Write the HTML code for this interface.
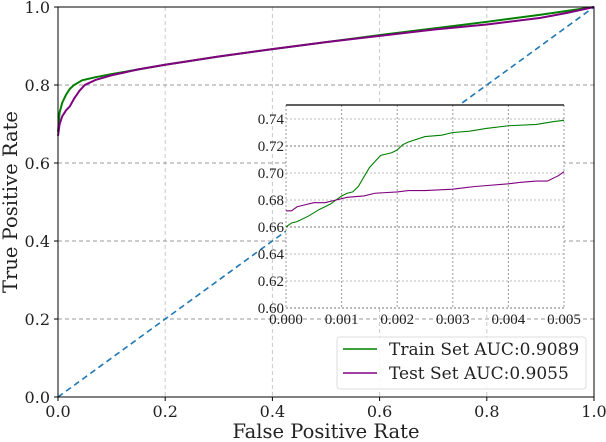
<!DOCTYPE html>
<html><head><meta charset="utf-8"><style>
html,body{margin:0;padding:0;background:#fff;}
svg{display:block;font-family:"DejaVu Serif","Liberation Serif",serif;}
</style></head><body>
<svg id="chart" width="606" height="442" viewBox="0 0 606 442"></svg>
<script>
const mainTicks=[0,0.2,0.4,0.6,0.8,1.0];
const mainTickLabels=["0.0","0.2","0.4","0.6","0.8","1.0"];
const trainFpr=[0,0.003,0.008,0.015,0.022,0.03,0.045,0.07,0.1,0.15,0.2,0.3,0.4,0.5,0.6,0.7,0.8,0.9,0.95,1.0];
const trainTpr=[0.68,0.73,0.755,0.775,0.79,0.80,0.812,0.82,0.828,0.84,0.852,0.873,0.892,0.91,0.928,0.945,0.962,0.98,0.99,1.0];
const testFpr=[0,0.003,0.008,0.015,0.022,0.03,0.04,0.05,0.07,0.1,0.15,0.2,0.3,0.4,0.5,0.6,0.7,0.8,0.9,0.95,1.0];
const testTpr=[0.67,0.70,0.72,0.735,0.745,0.765,0.785,0.80,0.813,0.825,0.84,0.852,0.873,0.892,0.91,0.926,0.942,0.955,0.972,0.985,1.0];
const insetXTicks=[0,0.001,0.002,0.003,0.004,0.005];
const insetXLabels=["0.000","0.001","0.002","0.003","0.004","0.005"];
const insetYTicks=[0.60,0.62,0.64,0.66,0.68,0.70,0.72,0.74];
const insetYLabels=["0.60","0.62","0.64","0.66","0.68","0.70","0.72","0.74"];
const insTrainX=[0,0.0001,0.0002,0.0004,0.0006,0.0008,0.001,0.0011,0.0012,0.0013,0.0014,0.0015,0.0017,0.0019,0.002,0.0021,0.0022,0.0025,0.0028,0.003,0.0033,0.0036,0.004,0.0045,0.0048,0.005];
const insTrainY=[0.660,0.663,0.664,0.668,0.673,0.677,0.683,0.685,0.686,0.690,0.697,0.704,0.713,0.715,0.717,0.721,0.723,0.727,0.728,0.730,0.731,0.733,0.735,0.736,0.738,0.739];
const insTestX=[0,0.0001,0.0002,0.0003,0.0005,0.0007,0.0009,0.0011,0.0014,0.0016,0.002,0.0022,0.0025,0.003,0.0032,0.0034,0.004,0.0042,0.0045,0.0047,0.0049,0.005];
const insTestY=[0.672,0.672,0.675,0.676,0.678,0.678,0.680,0.682,0.683,0.685,0.686,0.687,0.687,0.688,0.689,0.690,0.692,0.693,0.694,0.694,0.698,0.701];

const NS="http://www.w3.org/2000/svg";
const svg=document.getElementById('chart');
function mk(tag,attrs,parent){const e=document.createElementNS(NS,tag);for(const k in attrs)e.setAttribute(k,attrs[k]);(parent||svg).appendChild(e);return e;}
const X0=58,X1=594,Y0=397,Y1=7;
const sx=v=>X0+v*(X1-X0), sy=v=>Y0-v*(Y0-Y1);
const IX0=286,IX1=564,IYtop=105,IY060=308,IY074=119;
const isx=v=>IX0+v/0.005*(IX1-IX0);
const isy=v=>IY060-(v-0.60)/0.14*(IY060-IY074);

mainTicks.forEach((t,i)=>{
  if(i>0&&i<5){
    const g=mk('line',{x1:sx(t),x2:sx(t),y1:Y1,y2:Y0,stroke:'#c8c8c8','stroke-dasharray':'4,3','stroke-width':1});
    
    
    const h=mk('line',{x1:X0,x2:X1,y1:sy(t),y2:sy(t),stroke:'#999','stroke-dasharray':'4,3','stroke-width':1});
    
    
  }
  const tx=mk('text',{x:sx(t),y:Y0+20,'text-anchor':'middle','font-size':16,fill:'#222'});
  tx.textContent=mainTickLabels[i];
  
  
  mk('line',{x1:sx(t),x2:sx(t),y1:Y0,y2:Y0+4,stroke:'#000'});
  const ty=mk('text',{x:X0-8,y:sy(t)+6,'text-anchor':'end','font-size':16,fill:'#222'});
  ty.textContent=mainTickLabels[i];
  
  
  mk('line',{x1:X0-4,x2:X0,y1:sy(t),y2:sy(t),stroke:'#000'});
});
const diag=mk('line',{x1:sx(0),y1:sy(0),x2:sx(1),y2:sy(1),stroke:'#1f77b4','stroke-width':1.6,'stroke-dasharray':'6,4'});


function path(xs,ys,fx,fy){return xs.map((x,i)=>(i?'L':'M')+fx(x).toFixed(2)+','+fy(ys[i]).toFixed(2)).join('');}
const tr=mk('path',{d:path(trainFpr,trainTpr,sx,sy),fill:'none',stroke:'green','stroke-width':2});


const te=mk('path',{d:path(testFpr,testTpr,sx,sy),fill:'none',stroke:'purple','stroke-width':2});


const fr=mk('rect',{x:X0,y:Y1,width:X1-X0,height:Y0-Y1,fill:'none',stroke:'#000','stroke-width':1});


const xl=mk('text',{x:(X0+X1)/2,y:438,'text-anchor':'middle','font-size':19.5,fill:'#222'});
xl.textContent='False Positive Rate';


const yl=mk('text',{x:0,y:0,'text-anchor':'middle','font-size':19.5,fill:'#222',transform:'translate(17,202) rotate(-90)'});
yl.textContent='True Positive Rate';



const ig=mk('g',{});


mk('rect',{x:IX0,y:IYtop,width:IX1-IX0,height:IY060-IYtop,fill:'#fff'},ig);
insetYTicks.forEach((t,i)=>{
  const l=mk('line',{x1:IX0,x2:IX1,y1:isy(t),y2:isy(t),stroke:i%3===0?'#777':'#bbb','stroke-dasharray':'2,2','stroke-width':1},ig);
  
  
  const tt=mk('text',{x:IX0-2,y:isy(t)+5,'text-anchor':'end','font-size':15,fill:'#222','font-family':'"Liberation Serif",serif'},ig);
  tt.textContent=insetYLabels[i];
  
  
});
insetXTicks.forEach((t,i)=>{
  const l=mk('line',{x1:isx(t),x2:isx(t),y1:IYtop,y2:IY060,stroke:'#999','stroke-dasharray':'2,2','stroke-width':1},ig);
  
  
  const tt=mk('text',{x:isx(t),y:IY060+16,'text-anchor':'middle','font-size':15,fill:'#222','font-family':'"Liberation Serif",serif'},ig);
  tt.textContent=insetXLabels[i];
  
  
});
mk('line',{x1:IX0,x2:IX1,y1:IYtop,y2:IYtop,stroke:'#000','stroke-width':1.2},ig);
const itr=mk('path',{d:path(insTrainX,insTrainY,isx,isy),fill:'none',stroke:'green','stroke-width':1.1},ig);


const ite=mk('path',{d:path(insTestX,insTestY,isx,isy),fill:'none',stroke:'purple','stroke-width':1.1},ig);



const lg=mk('g',{});


mk('rect',{x:337,y:337,width:249,height:52,rx:3,fill:'#fff','fill-opacity':0.85,stroke:'#ddd'},lg);
const entries=[['Train Set AUC:0.9089','green'],['Test Set AUC:0.9055','purple']];
entries.forEach((e,i)=>{
  const y=349+i*24;
  mk('line',{x1:343,x2:377,y1:y,y2:y,stroke:e[1],'stroke-width':1.5},lg);
  const t=mk('text',{x:389,y:y+6,'font-size':17,fill:'#222'},lg);
  t.textContent=e[0];
  
  
});
</script>
</body></html>
